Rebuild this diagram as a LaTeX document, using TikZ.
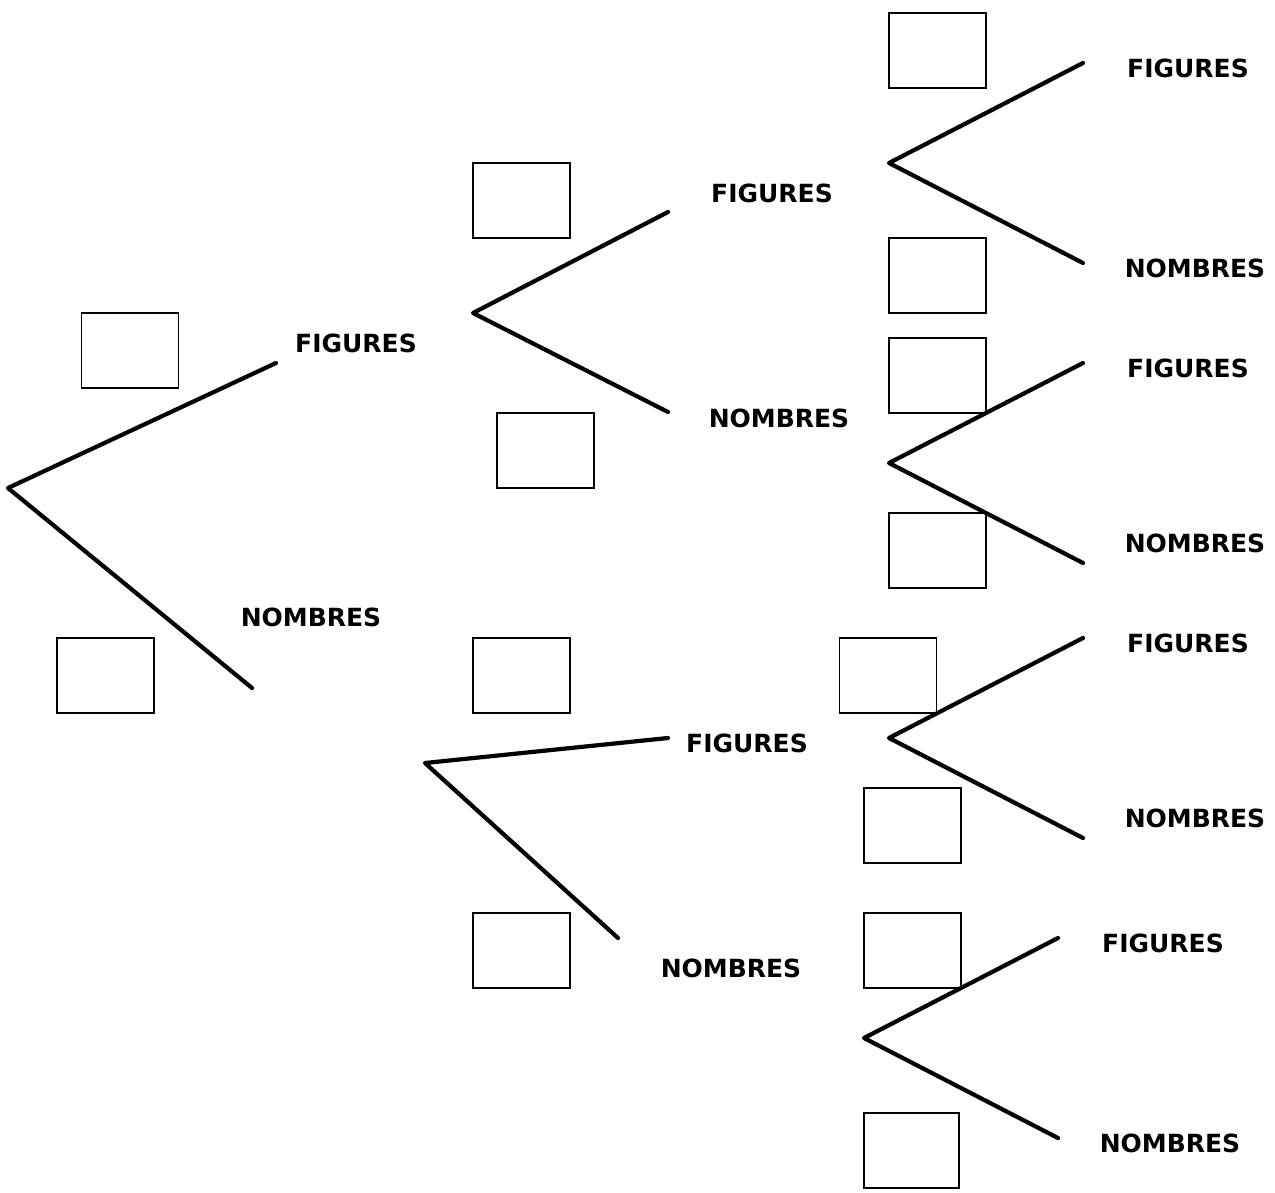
\documentclass[tikz,border=0pt]{standalone}
\usepackage{fontspec}
\setmainfont{DejaVu Sans}
\begin{document}
\begin{tikzpicture}[x=1pt,y=-1pt,
  branch/.style={line width=4.2pt,line cap=round,line join=round},
  answerbox/.style={draw,line width=1.7pt,rectangle,minimum width=97pt,minimum height=75pt,inner sep=0pt},
  lbl/.style={font=\fontsize{25}{25}\selectfont\bfseries,inner sep=0pt,anchor=center}]
\useasboundingbox (0,0) rectangle (1275,1192);
% tree vertices and branch ends
\coordinate (r) at (8,488);
\coordinate (rA) at (276,363);
\coordinate (rB) at (252,688);
\coordinate (a) at (473,313);
\coordinate (aA) at (668,212);
\coordinate (aB) at (668,412);
\coordinate (b) at (425,763);
\coordinate (bA) at (668,738);
\coordinate (bB) at (618,938);
\coordinate (c1) at (889,163);
\coordinate (c1A) at (1083,63);
\coordinate (c1B) at (1083,263);
\coordinate (c2) at (889,463);
\coordinate (c2A) at (1083,363);
\coordinate (c2B) at (1083,563);
\coordinate (c3) at (889,738);
\coordinate (c3A) at (1083,638);
\coordinate (c3B) at (1083,838);
\coordinate (c4) at (864,1038);
\coordinate (c4A) at (1058,938);
\coordinate (c4B) at (1058,1138);
% boxes
\node[answerbox] (x1) at (130,350.5) {};
\node[answerbox] (x2) at (105.5,675.5) {};
\node[answerbox] (x3) at (521.5,200.5) {};
\node[answerbox] (x4) at (545.5,450.5) {};
\node[answerbox] (x5) at (521.5,675.5) {};
\node[answerbox] (x6) at (521.5,950.5) {};
\node[answerbox] (x7) at (937.5,50.5) {};
\node[answerbox] (x8) at (937.5,275.5) {};
\node[answerbox] (x9) at (937.5,375.5) {};
\node[answerbox] (x10) at (937.5,550.5) {};
\node[answerbox] (x11) at (888,675.5) {};
\node[answerbox] (x12) at (912.5,825.5) {};
\node[answerbox] (x13) at (912.5,950.5) {};
\node[answerbox,minimum width=95pt] (x14) at (911.5,1150.5) {};
% branches
\draw[branch] (rA) -- (r) -- (rB);
\draw[branch] (aA) -- (a) -- (aB);
\draw[branch] (bA) -- (b) -- (bB);
\draw[branch] (c1A) -- (c1) -- (c1B);
\draw[branch] (c2A) -- (c2) -- (c2B);
\draw[branch] (c3A) -- (c3) -- (c3B);
\draw[branch] (c4A) -- (c4) -- (c4B);
% labels
\node[lbl] (l1) at (356,343) {FIGURES};
\node[lbl] (l2) at (311,617) {NOMBRES};
\node[lbl] (l3) at (772,193) {FIGURES};
\node[lbl] (l4) at (779,418) {NOMBRES};
\node[lbl] (l5) at (747,743) {FIGURES};
\node[lbl] (l6) at (731,968) {NOMBRES};
\node[lbl] (l7) at (1188,68) {FIGURES};
\node[lbl] (l8) at (1195,268) {NOMBRES};
\node[lbl] (l9) at (1188,368) {FIGURES};
\node[lbl] (l10) at (1195,543) {NOMBRES};
\node[lbl] (l11) at (1188,643) {FIGURES};
\node[lbl] (l12) at (1195,818) {NOMBRES};
\node[lbl] (l13) at (1163,943) {FIGURES};
\node[lbl] (l14) at (1170,1143) {NOMBRES};
\end{tikzpicture}
\end{document}
